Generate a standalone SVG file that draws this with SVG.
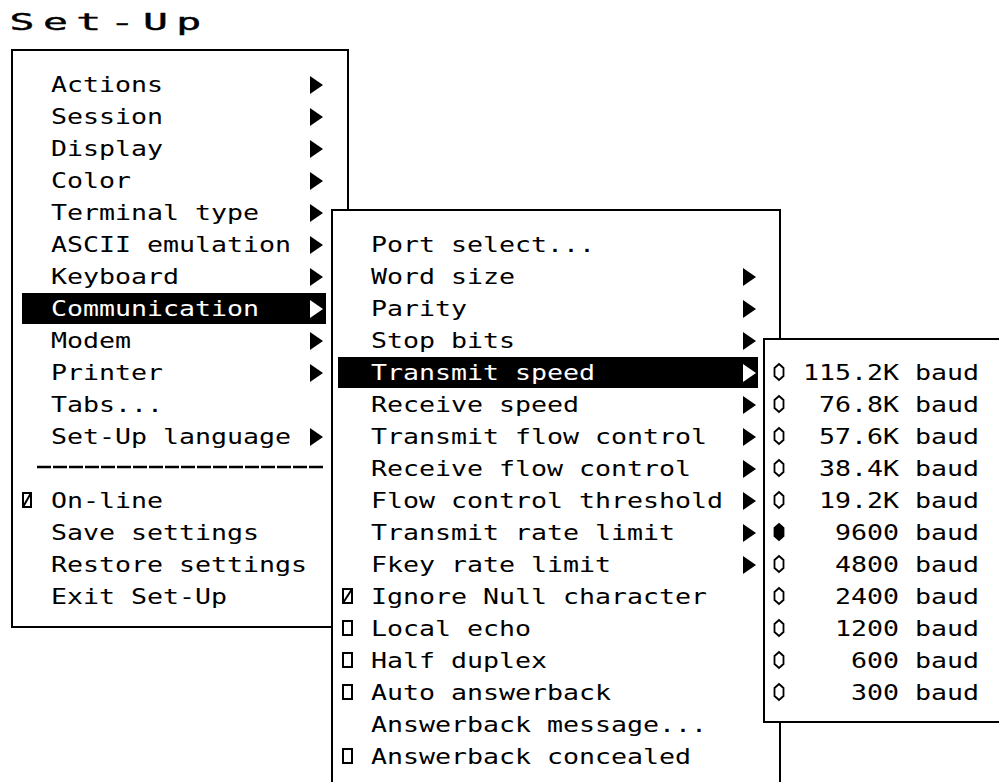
<svg xmlns="http://www.w3.org/2000/svg" xmlns:xlink="http://www.w3.org/1999/xlink" width="999" height="782" viewBox="0 0 999 782">
<style>
.menu{fill:#fff;stroke:#000;stroke-width:2}
.t{font-family:"DejaVu Sans Mono","Liberation Mono",monospace;font-size:22px;fill:#000}
.w{fill:#fff}
.hl{fill:#000}
.box{fill:none;stroke:#000;stroke-width:2}
.radio{fill:#fff;stroke:#000;stroke-width:1.8}
</style>
<defs>
<path id="tri" d="M0,-9 L13,0 L0,9 Z"/>
<path id="rad" d="M0,-8 L4.5,-4 L4.5,4 L0,8 L-4.5,4 L-4.5,-4 Z"/>
</defs>
<rect width="999" height="782" fill="#fff"/>

<g id="title">
<text class="t" transform="translate(0,30) scale(1.8,1)" x="5.3" y="0" style="font-size:23px;letter-spacing:4.7px;stroke:#000;stroke-width:0.4">Set-Up</text>
</g>

<g id="menu-setup">
<rect class="menu" x="12" y="50" width="336" height="577"/>
<rect class="hl" x="22" y="293" width="304" height="31"/>
<g class="t" lengthAdjust="spacingAndGlyphs">
<text x="51" y="92" textLength="112" lengthAdjust="spacingAndGlyphs">Actions</text>
<text x="51" y="124" textLength="112" lengthAdjust="spacingAndGlyphs">Session</text>
<text x="51" y="156" textLength="112" lengthAdjust="spacingAndGlyphs">Display</text>
<text x="51" y="188" textLength="80" lengthAdjust="spacingAndGlyphs">Color</text>
<text x="51" y="220" textLength="208" lengthAdjust="spacingAndGlyphs">Terminal type</text>
<text x="51" y="252" textLength="240" lengthAdjust="spacingAndGlyphs">ASCII emulation</text>
<text x="51" y="284" textLength="128" lengthAdjust="spacingAndGlyphs">Keyboard</text>
<text x="51" y="316" class="t w" textLength="208" lengthAdjust="spacingAndGlyphs">Communication</text>
<text x="51" y="348" textLength="80" lengthAdjust="spacingAndGlyphs">Modem</text>
<text x="51" y="380" textLength="112" lengthAdjust="spacingAndGlyphs">Printer</text>
<text x="51" y="412" textLength="112" lengthAdjust="spacingAndGlyphs">Tabs...</text>
<text x="51" y="444" textLength="240" lengthAdjust="spacingAndGlyphs">Set-Up language</text>
<text x="51" y="508" textLength="112" lengthAdjust="spacingAndGlyphs">On-line</text>
<text x="51" y="540" textLength="208" lengthAdjust="spacingAndGlyphs">Save settings</text>
<text x="51" y="572" textLength="256" lengthAdjust="spacingAndGlyphs">Restore settings</text>
<text x="51" y="604" textLength="176" lengthAdjust="spacingAndGlyphs">Exit Set-Up</text>
</g>
<line x1="37" y1="467" x2="325" y2="467" stroke="#000" stroke-width="2.5" stroke-dasharray="14 2"/>
<g fill="#000">
<use xlink:href="#tri" x="310" y="85"/>
<use xlink:href="#tri" x="310" y="117"/>
<use xlink:href="#tri" x="310" y="149"/>
<use xlink:href="#tri" x="310" y="181"/>
<use xlink:href="#tri" x="310" y="213"/>
<use xlink:href="#tri" x="310" y="245"/>
<use xlink:href="#tri" x="310" y="277"/>
<use xlink:href="#tri" x="310" y="309" fill="#fff"/>
<use xlink:href="#tri" x="310" y="341"/>
<use xlink:href="#tri" x="310" y="373"/>
<use xlink:href="#tri" x="310" y="437"/>
</g>
<rect class="box" x="23" y="493" width="8" height="14"/>
<line x1="23" y1="507" x2="31" y2="493" stroke="#000" stroke-width="2"/>
</g>

<g id="menu-communication">
<rect class="menu" x="332" y="210" width="448" height="600"/>
<rect class="hl" x="338" y="357" width="420" height="31"/>
<g class="t">
<text x="371" y="252" textLength="224" lengthAdjust="spacingAndGlyphs">Port select...</text>
<text x="371" y="284" textLength="144" lengthAdjust="spacingAndGlyphs">Word size</text>
<text x="371" y="316" textLength="96" lengthAdjust="spacingAndGlyphs">Parity</text>
<text x="371" y="348" textLength="144" lengthAdjust="spacingAndGlyphs">Stop bits</text>
<text x="371" y="380" class="t w" textLength="224" lengthAdjust="spacingAndGlyphs">Transmit speed</text>
<text x="371" y="412" textLength="208" lengthAdjust="spacingAndGlyphs">Receive speed</text>
<text x="371" y="444" textLength="336" lengthAdjust="spacingAndGlyphs">Transmit flow control</text>
<text x="371" y="476" textLength="320" lengthAdjust="spacingAndGlyphs">Receive flow control</text>
<text x="371" y="508" textLength="352" lengthAdjust="spacingAndGlyphs">Flow control threshold</text>
<text x="371" y="540" textLength="304" lengthAdjust="spacingAndGlyphs">Transmit rate limit</text>
<text x="371" y="572" textLength="240" lengthAdjust="spacingAndGlyphs">Fkey rate limit</text>
<text x="371" y="604" textLength="336" lengthAdjust="spacingAndGlyphs">Ignore Null character</text>
<text x="371" y="636" textLength="160" lengthAdjust="spacingAndGlyphs">Local echo</text>
<text x="371" y="668" textLength="176" lengthAdjust="spacingAndGlyphs">Half duplex</text>
<text x="371" y="700" textLength="240" lengthAdjust="spacingAndGlyphs">Auto answerback</text>
<text x="371" y="732" textLength="336" lengthAdjust="spacingAndGlyphs">Answerback message...</text>
<text x="371" y="764" textLength="320" lengthAdjust="spacingAndGlyphs">Answerback concealed</text>
</g>
<g fill="#000">
<use xlink:href="#tri" x="743" y="277"/>
<use xlink:href="#tri" x="743" y="309"/>
<use xlink:href="#tri" x="743" y="341"/>
<use xlink:href="#tri" x="743" y="373" fill="#fff"/>
<use xlink:href="#tri" x="743" y="405"/>
<use xlink:href="#tri" x="743" y="437"/>
<use xlink:href="#tri" x="743" y="469"/>
<use xlink:href="#tri" x="743" y="501"/>
<use xlink:href="#tri" x="743" y="533"/>
<use xlink:href="#tri" x="743" y="565"/>
</g>
<rect class="box" x="343" y="589" width="9" height="14"/>
<line x1="343" y1="603" x2="352" y2="589" stroke="#000" stroke-width="2"/>
<rect class="box" x="343" y="621" width="9" height="14"/>
<rect class="box" x="343" y="653" width="9" height="14"/>
<rect class="box" x="343" y="685" width="9" height="14"/>
<rect class="box" x="343" y="749" width="9" height="14"/>
</g>

<g id="menu-speed">
<rect class="menu" x="764" y="339" width="260" height="383"/>
<g class="t">
<text x="803" y="380" textLength="176" lengthAdjust="spacingAndGlyphs">115.2K baud</text>
<text x="819" y="412" textLength="160" lengthAdjust="spacingAndGlyphs">76.8K baud</text>
<text x="819" y="444" textLength="160" lengthAdjust="spacingAndGlyphs">57.6K baud</text>
<text x="819" y="476" textLength="160" lengthAdjust="spacingAndGlyphs">38.4K baud</text>
<text x="819" y="508" textLength="160" lengthAdjust="spacingAndGlyphs">19.2K baud</text>
<text x="835" y="540" textLength="144" lengthAdjust="spacingAndGlyphs">9600 baud</text>
<text x="835" y="572" textLength="144" lengthAdjust="spacingAndGlyphs">4800 baud</text>
<text x="835" y="604" textLength="144" lengthAdjust="spacingAndGlyphs">2400 baud</text>
<text x="835" y="636" textLength="144" lengthAdjust="spacingAndGlyphs">1200 baud</text>
<text x="851" y="668" textLength="128" lengthAdjust="spacingAndGlyphs">600 baud</text>
<text x="851" y="700" textLength="128" lengthAdjust="spacingAndGlyphs">300 baud</text>
</g>
<g class="radio">
<use xlink:href="#rad" x="779" y="372"/>
<use xlink:href="#rad" x="779" y="404"/>
<use xlink:href="#rad" x="779" y="436"/>
<use xlink:href="#rad" x="779" y="468"/>
<use xlink:href="#rad" x="779" y="500"/>
<use xlink:href="#rad" x="779" y="532" fill="#000"/>
<use xlink:href="#rad" x="779" y="564"/>
<use xlink:href="#rad" x="779" y="596"/>
<use xlink:href="#rad" x="779" y="628"/>
<use xlink:href="#rad" x="779" y="660"/>
<use xlink:href="#rad" x="779" y="692"/>
</g>
</g>
</svg>
